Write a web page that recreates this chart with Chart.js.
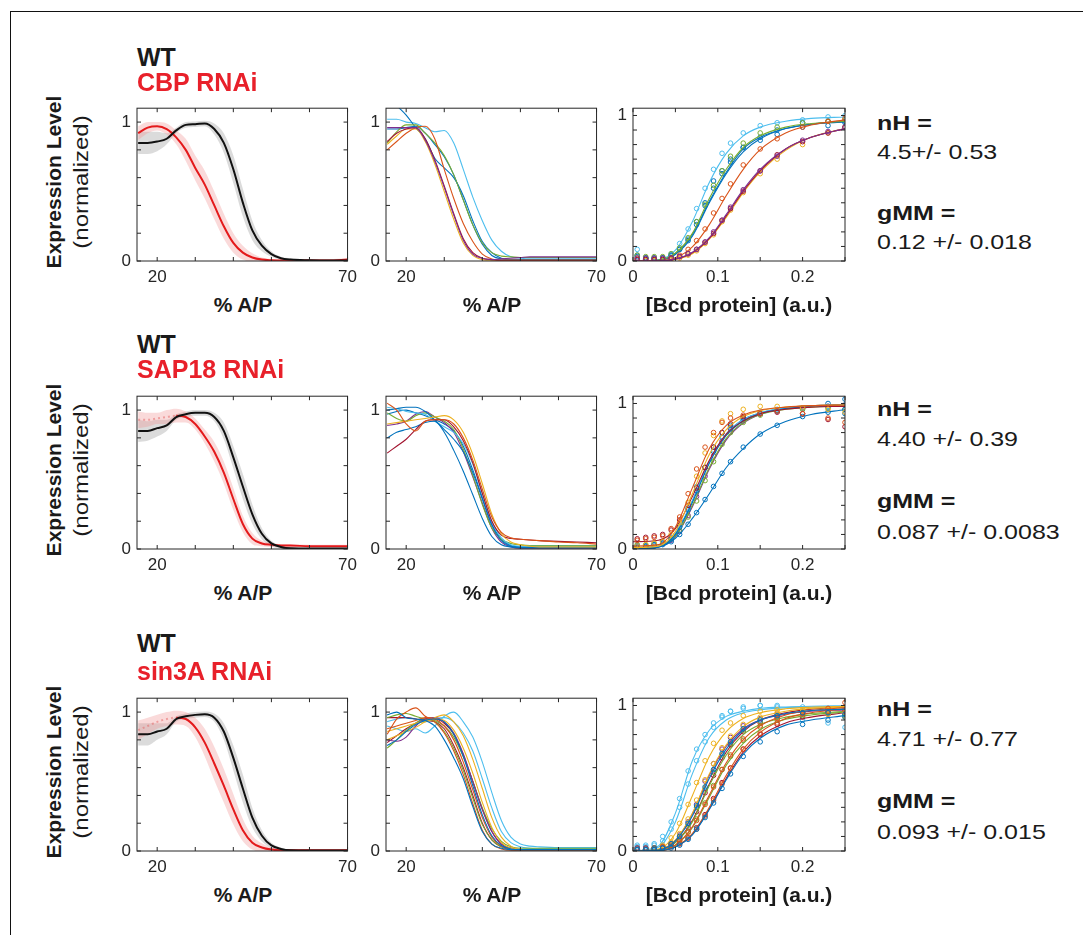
<!DOCTYPE html>
<html>
<head>
<meta charset="utf-8">
<script src="https://cdn.jsdelivr.net/npm/chart.js@4.4.1/dist/chart.umd.min.js"></script>
<style>
body { margin: 0; background: #fff; font-family: "Liberation Sans", Arial, Helvetica, sans-serif; }
#page { position: relative; width: 1083px; height: 935px; overflow: hidden; }
.frame { position: absolute; left: 10px; top: 11px; width: 1200px; height: 1000px; border-top: 1px solid #111; border-left: 1px solid #111; }
.t { position: absolute; line-height: 1; white-space: nowrap; color: #1a1a1a; }
.pan { position: absolute; }
</style>
</head>
<body>
<div id="page"><div class="frame"></div></div>
<script>
// positions along the embryo (% A/P) and Bcd grids
const apX = [15, 17.5, 20, 22.5, 25, 27.5, 30, 32.5, 35, 37.5, 40, 42.5, 45, 47.5, 50, 52.5, 55, 60, 65, 70];
const fitX = [0, 0.03, 0.05, 0.07, 0.09, 0.11, 0.13, 0.15, 0.18, 0.21, 0.25];
const dotX = [0.005, 0.015, 0.025, 0.035, 0.045, 0.055, 0.065, 0.075, 0.085, 0.095, 0.105, 0.115, 0.13, 0.15, 0.17, 0.2, 0.23, 0.25];

// ---- row 1 : CBP RNAi ----
const cbpWt   = [.85,.85,.86,.88,.94,.98,.985,.99,.95,.85,.66,.42,.22,.11,.05,.02,.01,.005,.003,.003];
const cbpWtSd = [.08,.08,.07,.04,.02,.02,.02,.02,.04,.07,.1,.1,.07,.04,.02,.01,.01,.005,.005,.005];
const cbpKd   = [.92,.96,.97,.95,.89,.8,.67,.55,.4,.25,.13,.06,.025,.01,.005,.003,.003,.003,.003,.01];
const cbpKdSd = [.05,.04,.03,.04,.05,.08,.09,.1,.1,.09,.07,.05,.03,.015,.01,.01,.01,.01,.01,.01];
const cbpColors = ['purple','dred','yellow','orange','green','blue','blue','lblue'];
const cbpEmb = [
  [.96,.96,.96,.96,.87,.72,.53,.33,.15,.05,.02,.01,.015,.02,.025,.03,.03,.03,.03,.03],
  [.86,.92,.95,.96,.88,.73,.54,.34,.16,.06,.02,.01,.005,.005,.005,.005,.005,.005,.005,.005],
  [.84,.9,.95,.95,.86,.7,.5,.3,.13,.04,.01,.005,.005,.005,.005,.005,.005,.005,.005,.005],
  [.8,.86,.92,.96,.97,.88,.66,.45,.27,.14,.05,.015,.005,.005,.005,.005,.005,.005,.005,.005],
  [.85,.93,.98,.98,.92,.85,.76,.62,.44,.26,.13,.06,.035,.03,.025,.025,.025,.025,.025,.025],
  [1.2,1.12,1.05,.96,.88,.74,.67,.6,.47,.29,.14,.06,.02,.01,.01,.01,.01,.01,.01,.01],
  [.95,.95,.96,.97,.92,.84,.75,.62,.44,.26,.12,.04,.015,.01,.01,.01,.01,.01,.01,.01],
  [1.02,1.02,1.0,.99,.96,.93,.94,.85,.66,.46,.29,.15,.07,.03,.02,.015,.015,.015,.015,.015]
];
const cbpFit = [
  [0,.001,.014,.06,.16,.32,.49,.63,.77,.85,.91],
  [0,.001,.013,.056,.155,.31,.48,.62,.77,.85,.91],
  [0,.001,.012,.05,.15,.3,.47,.61,.76,.85,.91],
  [0,.002,.022,.097,.25,.45,.63,.765,.88,.935,.97],
  [0,.006,.055,.19,.43,.63,.78,.86,.92,.945,.96],
  [0,.005,.05,.18,.41,.61,.77,.85,.91,.94,.955],
  [0,.004,.045,.17,.4,.6,.75,.84,.91,.94,.96],
  [0,.008,.075,.27,.54,.74,.86,.92,.96,.98,.99]
];
const cbpDots = [
  [.02,.02,.02,.02,.02,.03,.05,.08,.13,.2,.28,.37,.49,.62,.72,.83,.89,.92],
  [.01,.01,.01,.01,.02,.03,.05,.08,.13,.19,.28,.36,.48,.62,.73,.82,.88,.92],
  [.01,.005,.005,.01,.01,.02,.04,.07,.12,.18,.27,.35,.47,.6,.7,.8,.88,.92],
  [.02,.01,.01,.01,.02,.04,.08,.14,.22,.33,.43,.53,.66,.77,.84,.92,.96,.98],
  [.04,.03,.03,.03,.05,.09,.16,.27,.39,.52,.62,.72,.81,.88,.92,.95,.96,.97],
  [.04,.02,.02,.02,.04,.08,.15,.27,.4,.55,.62,.7,.78,.83,.87,.92,.93,.95],
  [.03,.02,.02,.02,.04,.08,.14,.25,.38,.5,.6,.68,.78,.85,.9,.95,.96,.96],
  [.08,.02,.01,.02,.05,.12,.22,.36,.5,.63,.74,.81,.88,.93,.95,.97,.99,1.0]
];

// ---- row 2 : SAP18 RNAi ----
const sapWt   = [.85,.85,.87,.89,.95,.97,.98,.98,.95,.85,.66,.45,.25,.11,.04,.015,.005,.003,.003,.003];
const sapWtSd = [.08,.07,.06,.04,.02,.02,.02,.02,.03,.06,.08,.09,.07,.04,.02,.01,.01,.005,.005,.005];
const sapKd   = [.93,.93,.94,.95,.96,.95,.9,.81,.7,.55,.36,.18,.075,.04,.03,.025,.025,.02,.02,.02];
const sapKdSd = [.06,.05,.04,.05,.05,.04,.04,.05,.07,.08,.08,.06,.04,.02,.015,.01,.01,.01,.01,.01];
const sapColors = ['orange','yellow','dred','blue','blue','lblue','green','purple','blue'];
const sapEmb = [
  [1.05,1.0,.9,.85,.92,.93,.93,.9,.8,.64,.43,.23,.12,.08,.07,.065,.06,.05,.045,.035],
  [.9,.91,.92,.93,.94,.95,.96,.93,.84,.68,.47,.25,.11,.05,.03,.02,.015,.015,.015,.015],
  [.69,.74,.79,.86,.92,.93,.93,.88,.78,.62,.4,.2,.1,.075,.07,.065,.06,.055,.05,.045],
  [.8,.84,.86,.88,.91,.92,.84,.71,.56,.39,.22,.09,.03,.015,.01,.01,.01,.01,.01,.01],
  [1.0,1.01,1.02,1.02,.99,.93,.86,.79,.7,.55,.36,.17,.06,.02,.01,.01,.01,.01,.01,.01],
  [1.02,1.01,.99,.98,.97,.92,.88,.84,.76,.61,.4,.2,.08,.03,.02,.02,.02,.02,.02,.02],
  [.98,.94,.92,.96,.98,.95,.92,.86,.72,.53,.32,.15,.07,.04,.03,.025,.025,.025,.025,.025],
  [.89,.9,.92,.97,.99,.95,.91,.84,.7,.52,.33,.15,.05,.015,.005,.005,.005,.005,.005,.005],
  [.97,.99,1.0,.98,.96,.93,.9,.85,.74,.57,.37,.18,.07,.025,.015,.015,.015,.015,.015,.015]
];
const sapFit = [
  [.02,.03,.15,.42,.69,.85,.92,.955,.975,.985,.99],
  [.01,.02,.12,.38,.65,.82,.91,.95,.975,.985,.99],
  [.05,.06,.14,.36,.61,.79,.88,.93,.96,.975,.98],
  [0,.013,.074,.21,.38,.56,.69,.79,.876,.924,.957],
  [0,.015,.1,.32,.59,.78,.88,.93,.965,.98,.99],
  [.01,.02,.11,.33,.6,.79,.89,.935,.97,.98,.99],
  [.01,.02,.09,.3,.56,.76,.87,.925,.96,.975,.985],
  [.01,.015,.085,.29,.55,.75,.865,.925,.965,.98,.99],
  [0,.012,.1,.33,.6,.79,.89,.935,.97,.985,.99]
];
const sapDots = [
  [.06,.07,.08,.09,.14,.22,.38,.55,.7,.8,.87,.9,.92,.93,.95,.93,.9,.87],
  [.02,.03,.04,.05,.1,.18,.32,.5,.66,.78,.88,.93,.96,.98,.98,.97,.96,.94],
  [.07,.08,.09,.1,.13,.2,.3,.42,.56,.7,.8,.86,.91,.93,.94,.93,.89,.84],
  [.01,.01,.02,.03,.05,.1,.17,.25,.34,.43,.52,.6,.7,.79,.85,.91,.94,.96],
  [.02,.02,.03,.04,.07,.15,.27,.4,.56,.7,.8,.85,.9,.93,.95,.97,1.0,1.03],
  [.02,.02,.03,.04,.08,.16,.28,.43,.56,.68,.77,.84,.9,.94,.96,.97,.98,.99],
  [.03,.03,.04,.05,.07,.13,.22,.33,.47,.6,.72,.8,.87,.92,.95,.96,.97,.96],
  [.02,.02,.03,.04,.06,.12,.23,.36,.5,.64,.74,.82,.88,.93,.95,.97,.98,.99],
  [.02,.02,.03,.05,.08,.16,.28,.42,.56,.67,.77,.83,.89,.93,.95,.97,.98,.93]
];

// ---- row 3 : sin3A RNAi ----
const sinWt   = [.84,.84,.86,.88,.95,.97,.98,.985,.96,.86,.67,.45,.24,.11,.04,.015,.005,.003,.003,.003];
const sinWtSd = [.08,.08,.06,.04,.02,.02,.02,.02,.03,.06,.09,.1,.07,.04,.02,.01,.005,.005,.005,.005];
const sinKd   = [.87,.9,.93,.95,.96,.95,.89,.78,.63,.47,.3,.15,.06,.025,.01,.005,.005,.005,.005,.005];
const sinKdSd = [.07,.06,.05,.05,.05,.05,.07,.1,.12,.12,.11,.08,.05,.03,.015,.01,.01,.005,.005,.005];
const sinColors = ['blue','blue','orange','orange','yellow','yellow','purple','green','green','dred','dred','lblue','lblue'];
const sinEmb = [
  [.98,1.0,.96,.95,.94,.9,.8,.67,.52,.32,.14,.05,.02,.01,.01,.01,.01,.01,.01,.01],
  [.76,.8,.86,.91,.94,.95,.93,.84,.68,.47,.26,.11,.04,.015,.01,.01,.01,.01,.01,.01],
  [.84,.95,1.0,1.03,.97,.93,.85,.72,.55,.34,.15,.05,.015,.005,.005,.005,.005,.005,.005,.005],
  [.88,.9,.92,.94,.96,.95,.9,.8,.64,.44,.24,.1,.035,.01,.005,.005,.005,.005,.005,.005],
  [.8,.83,.86,.89,.93,.96,.98,.93,.83,.66,.45,.24,.1,.035,.01,.01,.01,.01,.01,.01],
  [.86,.88,.9,.92,.93,.95,.94,.87,.74,.56,.35,.17,.06,.02,.01,.01,.01,.01,.01,.01],
  [.8,.79,.82,.9,.95,.96,.93,.85,.7,.5,.3,.14,.05,.02,.01,.01,.01,.01,.01,.01],
  [.74,.8,.87,.92,.95,.93,.86,.74,.58,.38,.19,.08,.03,.015,.01,.01,.01,.01,.01,.01],
  [.96,.98,.99,.97,.95,.94,.9,.82,.68,.5,.31,.16,.07,.03,.02,.02,.02,.02,.02,.02],
  [.96,.96,.96,.95,.94,.93,.88,.76,.6,.4,.2,.08,.03,.01,.005,.005,.005,.005,.005,.005],
  [.78,.83,.88,.92,.95,.95,.92,.84,.69,.5,.3,.14,.05,.02,.01,.01,.01,.01,.01,.01],
  [.9,.88,.86,.88,.85,.9,.97,1.0,.93,.82,.64,.42,.22,.1,.05,.035,.03,.025,.025,.025],
  [.93,.95,.96,.95,.93,.95,.96,.93,.85,.72,.52,.31,.14,.06,.03,.02,.015,.015,.015,.015]
];
const sinFit = [
  [0,.007,.07,.24,.5,.7,.83,.9,.945,.965,.975],
  [0,.003,.028,.11,.285,.49,.665,.775,.865,.9,.93],
  [0,.003,.03,.12,.3,.52,.7,.815,.91,.95,.977],
  [0,.004,.042,.167,.384,.606,.765,.861,.935,.966,.984],
  [0,.013,.12,.38,.65,.82,.91,.95,.977,.988,.994],
  [0,.008,.075,.26,.53,.73,.855,.92,.96,.98,.99],
  [0,.008,.073,.255,.52,.72,.84,.9,.94,.96,.97],
  [0,.006,.058,.2,.45,.66,.8,.87,.92,.945,.96],
  [0,.004,.04,.16,.37,.59,.74,.835,.905,.935,.955],
  [0,.006,.06,.21,.46,.68,.82,.9,.95,.975,.988],
  [0,.003,.029,.115,.29,.5,.68,.79,.88,.92,.95],
  [0,.035,.26,.62,.83,.925,.96,.98,.99,.995,.998],
  [0,.025,.2,.53,.78,.9,.95,.97,.985,.99,.995]
];
const sinDots = [
  [.01,.01,.02,.02,.05,.1,.19,.31,.44,.56,.67,.75,.84,.9,.93,.95,.95,.94],
  [.01,.01,.01,.02,.02,.04,.08,.15,.23,.33,.43,.53,.65,.75,.82,.87,.9,.92],
  [.01,.01,.01,.02,.03,.05,.09,.15,.24,.35,.46,.57,.7,.81,.88,.94,.98,1.02],
  [.01,.01,.02,.03,.04,.07,.13,.21,.32,.44,.56,.66,.77,.86,.91,.95,.96,.97],
  [.01,.01,.02,.04,.09,.19,.32,.47,.62,.74,.83,.88,.93,.96,.97,.96,.94,.92],
  [.01,.01,.02,.03,.06,.12,.22,.35,.49,.6,.71,.79,.87,.92,.95,.97,.97,.95],
  [.02,.02,.02,.03,.05,.11,.2,.32,.48,.6,.7,.78,.86,.91,.94,.96,.97,.96],
  [.01,.01,.02,.03,.05,.1,.18,.3,.42,.54,.66,.74,.83,.89,.93,.96,.95,.93],
  [.02,.02,.02,.03,.04,.07,.13,.22,.33,.45,.56,.65,.76,.85,.9,.93,.95,.94],
  [.02,.02,.02,.03,.05,.09,.16,.27,.4,.52,.64,.73,.82,.88,.92,.95,.96,.95],
  [.01,.01,.01,.02,.03,.05,.09,.16,.25,.36,.47,.57,.7,.8,.87,.92,.94,.95],
  [.04,.04,.05,.1,.2,.36,.55,.7,.8,.88,.93,.96,.98,1.0,.99,.9,.88,.85],
  [.03,.03,.04,.07,.15,.3,.46,.62,.75,.85,.92,.96,.99,1.0,1.0,.99,.98,.97]
];

const rnaiNames = ['CBP RNAi', 'SAP18 RNAi', 'sin3A RNAi'];
const nhText = ['4.5+/- 0.53', '4.40 +/- 0.39', '4.71 +/- 0.77'];
const gmmText = ['0.12 +/- 0.018', '0.087 +/- 0.0083', '0.093 +/- 0.015'];

// ---- drawing ----
const PAL = {blue:'#0072BD', orange:'#D95319', yellow:'#EDB120', purple:'#7E2F8E', green:'#77AC30', lblue:'#4DBEEE', dred:'#A2142F'};
const FONT = '"Liberation Sans", Arial, Helvetica, sans-serif';
const PW = 212, PH = 159;
const colLeft = [137, 386, 633];
const rowTop = [102, 390, 692];
const page = document.getElementById('page');

const pts = (xs, ys) => xs.map((x, i) => ({x: x, y: ys[i]}));

// MATLAB style box with inward ticks
const boxPlugin = {
  id: 'box',
  afterDatasetsDraw(chart) {
    const ctx = chart.ctx, a = chart.chartArea, sx = chart.scales.x, sy = chart.scales.y;
    ctx.save();
    ctx.strokeStyle = '#262626';
    ctx.lineWidth = 1;
    ctx.strokeRect(a.left, a.top, a.right - a.left, a.bottom - a.top);
    ctx.beginPath();
    sx.ticks.forEach(t => {
      const p = sx.getPixelForValue(t.value);
      ctx.moveTo(p, a.bottom); ctx.lineTo(p, a.bottom - 4);
      ctx.moveTo(p, a.top); ctx.lineTo(p, a.top + 4);
    });
    sy.ticks.forEach(t => {
      const p = sy.getPixelForValue(t.value);
      ctx.moveTo(a.left, p); ctx.lineTo(a.left + 4, p);
      ctx.moveTo(a.right, p); ctx.lineTo(a.right - 4, p);
    });
    ctx.stroke();
    ctx.restore();
  }
};

function axis(min, max, tickVals, labelVals, isX) {
  return {
    type: 'linear', min: min, max: max,
    grid: {display: false, drawTicks: false}, border: {display: false},
    afterBuildTicks: s => { s.ticks = tickVals.map(v => ({value: v})); },
    afterFit: s => { if (isX) s.height = 30; else s.width = 40; },
    ticks: {
      autoSkip: false, maxRotation: 0, padding: isX ? 6 : 6, color: '#262626',
      font: {family: FONT, size: 17},
      callback: v => labelVals.some(l => Math.abs(l - v) < 1e-9) ? String(v) : ''
    }
  };
}

function makePanel(col, row, datasets, xs, ys) {
  const box = document.createElement('div');
  box.className = 'pan';
  box.style.left = (colLeft[col] - 40) + 'px';
  box.style.top = (rowTop[row] - 10) + 'px';
  const cv = document.createElement('canvas');
  cv.width = PW + 54;
  cv.height = PH + 40;
  box.appendChild(cv);
  page.appendChild(box);
  new Chart(cv, {
    type: 'line',
    data: {datasets: datasets},
    options: {
      responsive: false, animation: false, events: [],
      layout: {padding: {left: 0, top: 10, right: 14, bottom: 0}},
      plugins: {legend: {display: false}, tooltip: {enabled: false}},
      elements: {point: {radius: 0}},
      scales: {x: xs, y: ys}
    },
    plugins: [boxPlugin]
  });
}

const apTicks = [20, 30, 40, 50, 60, 70];
const yTicks5 = [0, 0.2, 0.4, 0.6, 0.8, 1];
const yTicks10 = [0, 0.1, 0.2, 0.3, 0.4, 0.5, 0.6, 0.7, 0.8, 0.9, 1];
const bcdTicks = [0, 0.05, 0.1, 0.15, 0.2, 0.25];

const rows = [
  {wt: cbpWt, wtSd: cbpWtSd, kd: cbpKd, kdSd: cbpKdSd, colors: cbpColors, emb: cbpEmb, fit: cbpFit, dots: cbpDots, dashTo: 0},
  {wt: sapWt, wtSd: sapWtSd, kd: sapKd, kdSd: sapKdSd, colors: sapColors, emb: sapEmb, fit: sapFit, dots: sapDots, dashTo: 26},
  {wt: sinWt, wtSd: sinWtSd, kd: sinKd, kdSd: sinKdSd, colors: sinColors, emb: sinEmb, fit: sinFit, dots: sinDots, dashTo: 26}
];

rows.forEach((r, ri) => {
  const smooth = {cubicInterpolationMode: 'monotone', pointRadius: 0};
  const lo = (m, s) => m.map((v, i) => v - s[i]);
  const hi = (m, s) => m.map((v, i) => v + s[i]);
  const dashed = c => c.p1.parsed.x <= r.dashTo;
  // panel 1 : mean +/- sd
  makePanel(0, ri, [
    Object.assign({data: pts(apX, r.wt), borderColor: '#111', borderWidth: 2, order: 0}, smooth),
    Object.assign({data: pts(apX, r.kd), borderColor: '#e41a1c', borderWidth: 2, order: 0,
      segment: {borderColor: c => dashed(c) ? 'rgba(230,110,110,0.55)' : undefined,
                borderDash: c => dashed(c) ? [2, 3] : undefined}}, smooth),
    Object.assign({data: pts(apX, lo(r.wt, r.wtSd)), borderWidth: 0, fill: false, order: 2}, smooth),
    Object.assign({data: pts(apX, hi(r.wt, r.wtSd)), borderWidth: 0, fill: '-1', backgroundColor: 'rgba(175,175,175,0.45)', order: 2}, smooth),
    Object.assign({data: pts(apX, lo(r.kd, r.kdSd)), borderWidth: 0, fill: false, order: 1}, smooth),
    Object.assign({data: pts(apX, hi(r.kd, r.kdSd)), borderWidth: 0, fill: '-1', backgroundColor: 'rgba(240,150,150,0.35)', order: 1}, smooth)
  ], axis(14.7, 70, apTicks, [20, 70], true), axis(0, 1.1, yTicks5, [0, 1], false));

  // panel 2 : single embryos
  makePanel(1, ri, r.emb.map((e, i) => Object.assign({
    data: pts(apX, e), borderColor: PAL[r.colors[i]], borderWidth: 1.1
  }, smooth)), axis(14.7, 70, apTicks, [20, 70], true), axis(0, 1.1, yTicks5, [0, 1], false));

  // panel 3 : expression vs Bcd, points and Hill fits
  const ds3 = [];
  r.fit.forEach((f, i) => {
    const col = PAL[r.colors[i]];
    ds3.push({data: pts(dotX, r.dots[i]), showLine: false, borderColor: col, pointRadius: 2.3,
      pointBorderWidth: 1, pointBackgroundColor: 'rgba(0,0,0,0)', pointStyle: 'circle'});
    ds3.push(Object.assign({data: pts(fitX, f), borderColor: col, borderWidth: 1.1}, smooth));
  });
  makePanel(2, ri, ds3, axis(0, 0.25, bcdTicks, [0, 0.1, 0.2], true), axis(0, 1.05, yTicks10, [0, 1], false));
});

// ---- text ----
function txt(s, x, y, style) {
  const d = document.createElement('div');
  d.className = 't';
  d.textContent = s;
  d.style.left = x + 'px';
  d.style.top = y + 'px';
  Object.assign(d.style, style);
  page.appendChild(d);
  return d;
}
const wtTop = [45, 332, 631], kdTop = [70, 357, 659];
const nhTop = [111.5, 397.5, 697.5], nhValTop = [140.5, 427.5, 727.5];
const gmTop = [202, 490, 790], gmValTop = [230.5, 520.5, 820.5];
const stretch = {transform: 'scaleX(1.19)', transformOrigin: '0 0'};
rowTop.forEach((t, ri) => {
  txt('WT', 137, wtTop[ri], {fontSize: '25px', fontWeight: 'bold'});
  txt(rnaiNames[ri], 137, kdTop[ri], {fontSize: '25px', fontWeight: 'bold', color: '#e8202a'});
  const cy = t + PH / 2;
  txt('Expression Level', 53, cy, {fontSize: '21px', fontWeight: 'bold', transform: 'translate(-50%,-50%) rotate(-90deg)'});
  txt('(normalized)', 81, cy, {fontSize: '20px', transform: 'translate(-50%,-50%) rotate(-90deg) scaleX(1.2)'});
  const xy = t + PH + 43;
  txt('% A/P', colLeft[0] + PW / 2, xy, {fontSize: '21px', fontWeight: 'bold', transform: 'translate(-50%,-50%)'});
  txt('% A/P', colLeft[1] + PW / 2, xy, {fontSize: '21px', fontWeight: 'bold', transform: 'translate(-50%,-50%)'});
  txt('[Bcd protein] (a.u.)', colLeft[2] + PW / 2, xy, {fontSize: '21px', fontWeight: 'bold', transform: 'translate(-50%,-50%)'});
  txt('nH =', 877, nhTop[ri], Object.assign({fontSize: '21px', fontWeight: 'bold'}, stretch));
  txt(nhText[ri], 877, nhValTop[ri], Object.assign({fontSize: '21px'}, stretch));
  txt('gMM =', 877, gmTop[ri], Object.assign({fontSize: '21px', fontWeight: 'bold'}, stretch));
  txt(gmmText[ri], 877, gmValTop[ri], Object.assign({fontSize: '21px'}, stretch));
});
</script>
</body>
</html>
